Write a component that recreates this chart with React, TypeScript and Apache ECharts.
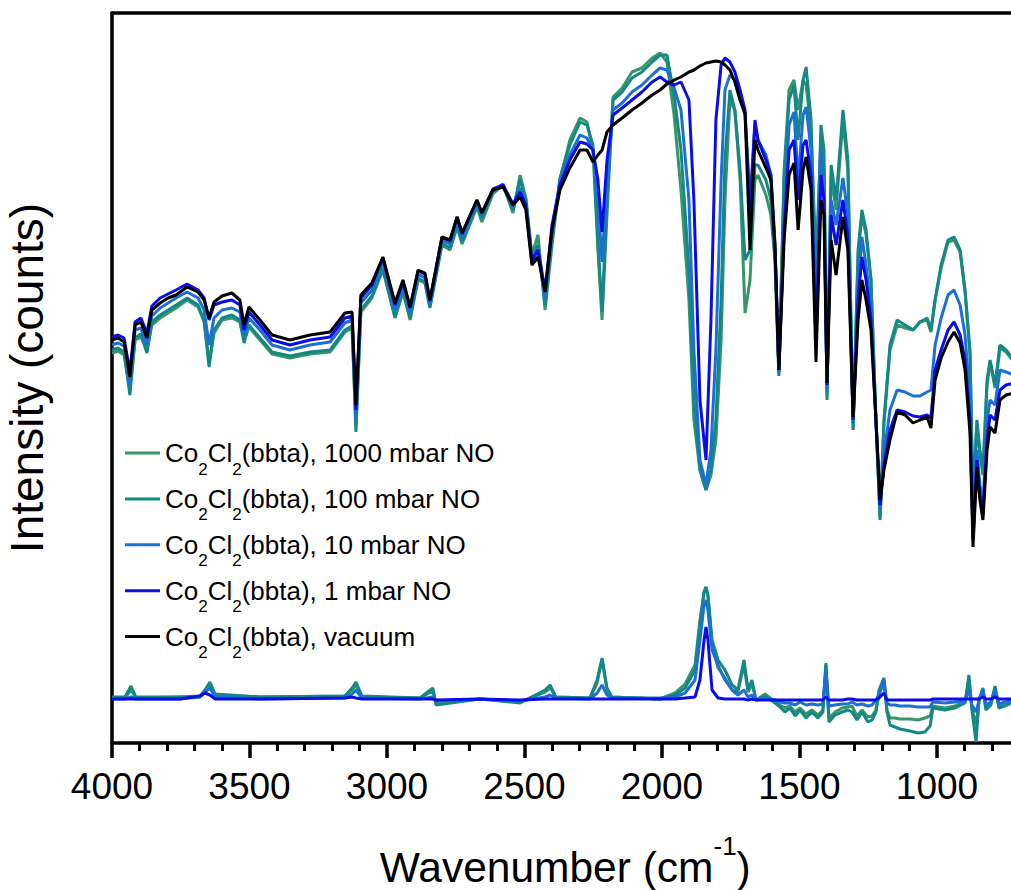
import React, { useEffect, useRef } from "react";
import * as echarts from "echarts";

// Wavenumbers (cm-1) of the sampled main spectra
const WN = [4000,3978,3956,3935,3916,3895,3873,3855,3825,3796,
3767,3727,3687,3665,3647,3629,3600,3564,3535,3520,
3502,3462,3418,3353,3280,3207,3153,3127,3113,3095,
3055,3015,2971,2942,2916,2887,2862,2844,2800,2771,
2745,2727,2673,2655,2615,2578,2542,2516,2495,2473,
2451,2425,2400,2371,2335,2298,2273,2251,2233,2218,
2200,2178,2145,2109,2073,2036,2007,1982,1956,1931,
1902,1884,1862,1840,1822,1804,1785,1771,1753,1735,
1716,1698,1680,1662,1651,1622,1604,1589,1575,1556,
1538,1520,1505,1487,1476,1458,1440,1422,1411,1400,
1385,1367,1342,1324,1305,1287,1273,1258,1240,1222,
1207,1193,1171,1145,1116,1087,1062,1036,1022,1007,
985,960,938,916,898,880,869,855,844,833,
818,807,789,771,749,720];

// Intensity (arb. counts) – vacuum
const VAC = [403,405,401,366,418,421,405,433,440,445,
448,456,451,443,425,441,447,450,443,418,
436,423,408,403,408,411,430,431,338,448,
460,486,440,463,436,473,470,443,506,503,
526,510,543,530,553,556,538,546,533,478,
486,451,513,553,575,593,593,581,588,593,
611,618,625,633,640,648,653,659,663,666,
671,673,677,680,681,682,681,678,673,661,
643,630,493,603,593,575,563,493,373,503,
568,580,513,573,586,553,381,543,528,360,
503,468,526,493,326,423,463,443,413,323,
243,273,303,331,328,320,323,326,315,363,
385,401,411,400,373,310,196,276,243,223,
293,316,310,343,348,350];

// 1 mbar NO
const NO1 = [406,408,405,371,421,425,410,437,445,449,
453,459,453,445,423,438,441,443,438,413,
431,418,403,398,403,406,425,427,333,445,
458,485,438,461,435,472,469,442,506,502,
526,509,543,530,554,558,539,551,538,483,
493,453,518,558,583,601,599,593,563,511,
583,628,635,643,651,661,666,661,658,661,
643,543,343,283,423,623,678,685,681,671,
653,633,528,623,603,583,568,498,373,513,
593,603,543,598,603,568,403,568,543,358,
528,498,543,508,323,443,486,463,423,323,
238,278,313,333,331,327,326,328,325,373,
393,413,421,408,383,323,203,283,248,228,
303,328,323,353,358,360];

// 10 mbar NO
const NO10 = [398,400,397,358,413,415,398,427,435,440,
445,451,445,433,398,425,433,435,431,408,
425,413,398,393,398,401,420,423,323,440,
453,481,433,458,431,469,465,439,503,499,
523,506,541,528,553,558,537,555,538,481,
493,445,513,561,588,608,605,593,543,481,
563,633,640,651,658,668,675,673,655,633,
543,393,283,258,293,393,563,653,668,663,
643,628,543,618,603,588,568,498,371,523,
618,631,563,628,636,593,423,593,558,353,
543,518,565,528,320,458,506,478,433,323,
233,288,333,353,351,347,347,351,353,398,
425,448,453,438,408,343,213,293,258,238,
323,343,338,373,371,368];

// 100 mbar NO
const NO100 = [393,395,391,348,405,409,390,421,428,433,
438,445,438,423,376,413,425,428,423,400,
418,405,391,387,391,393,413,417,311,433,
447,475,426,453,425,465,461,436,500,495,
518,501,538,525,551,559,533,563,543,485,
498,438,503,565,598,621,618,598,503,431,
543,643,651,665,671,681,688,688,648,593,
473,343,273,253,273,323,443,583,653,633,
573,483,493,578,578,563,543,483,367,563,
643,658,603,663,676,623,443,618,593,343,
578,543,633,583,313,493,533,513,463,323,
223,323,398,423,418,413,421,425,413,443,
478,503,506,493,453,393,243,323,293,273,
363,383,358,398,393,383];

// 1000 mbar NO
const NO1000 = [390,392,388,353,403,406,393,418,425,430,
435,443,436,421,381,410,423,425,421,403,
416,403,389,385,389,391,411,415,318,431,
445,473,425,451,423,463,460,435,498,493,
516,499,536,521,549,558,530,568,545,488,
508,433,498,563,603,625,621,593,493,423,
528,646,655,671,675,685,690,681,628,553,
443,323,273,253,268,303,403,543,643,633,
563,430,463,563,568,548,528,483,369,573,
653,663,633,663,658,613,483,603,573,348,
568,533,623,573,315,488,528,508,463,323,
225,318,393,418,415,413,421,423,411,443,
475,501,503,491,451,388,238,318,288,268,
358,381,355,395,391,381];

// Difference spectra (NO-loaded minus vacuum, offset)
const DWN = [4000,3953,3931,3913,3753,3680,3662,3644,3625,3462,
3153,3127,3113,3091,2880,2833,2822,2662,2516,2425,
2407,2386,2262,2236,2218,2200,2182,2007,1953,1916,
1880,1862,1847,1840,1833,1818,1796,1771,1745,1724,
1702,1687,1673,1658,1625,1589,1571,1553,1535,1516,
1498,1476,1455,1433,1415,1404,1393,1371,1345,1324,
1309,1291,1273,1251,1236,1222,1211,1193,1182,1171,
1153,1135,1098,1069,1044,1025,1015,971,935,898,
884,873,858,847,833,822,804,789,775,753,
731,698];

const D_NO1 = [44,44,44,44,44,47,50,48,44,44,
45,46,45,44,44,44,43,44,43,44,
44,44,44,44,44,44,44,44,44,45,
46,63,103,116,103,53,45,44,44,44,
44,43,44,43,43,43,43,43,43,43,
43,43,43,43,43,46,43,43,43,44,
44,43,43,43,43,43,45,50,43,43,
43,43,43,43,43,43,44,44,44,44,
44,44,44,44,46,44,44,46,44,44,
44,44];

const D_NO10 = [44,44,46,44,44,46,51,55,46,44,
45,49,53,45,44,46,42,44,42,46,
48,45,44,50,58,48,45,45,46,50,
63,103,138,143,133,93,78,63,53,48,
53,46,48,43,45,43,41,40,40,38,
41,38,39,38,39,73,37,38,39,39,
41,38,39,37,38,43,48,63,40,38,
38,37,37,36,36,36,41,40,41,42,
53,38,31,43,53,38,41,53,39,41,
42,42];

const D_NO100 = [46,46,57,46,46,47,53,61,49,46,
47,55,61,47,45,55,38,44,40,53,
58,46,45,63,85,55,46,44,48,55,
73,118,151,156,148,103,83,73,58,53,
83,53,63,43,47,40,36,31,35,27,
33,25,31,25,31,80,21,28,31,33,
31,23,31,21,23,31,53,65,31,18,
16,14,12,10,11,17,35,33,35,40,
68,33,1,43,55,33,38,57,35,37,
40,40];

const D_NO1000 = [45,45,53,45,46,46,51,58,48,46,
47,53,58,46,45,52,40,44,41,51,
55,46,45,60,83,53,46,44,50,59,
78,123,151,156,148,98,75,65,53,51,
78,51,59,43,49,41,38,35,37,31,
35,29,33,28,33,78,25,31,35,36,
37,27,33,26,27,33,48,61,33,25,
25,24,24,23,25,27,37,35,37,41,
63,35,18,43,53,35,40,55,37,39,
41,41];

const NAMES = [
  "Co2Cl2(bbta), 1000 mbar NO",
  "Co2Cl2(bbta), 100 mbar NO",
  "Co2Cl2(bbta), 10 mbar NO",
  "Co2Cl2(bbta), 1 mbar NO",
  "Co2Cl2(bbta), vacuum",
];
const COLORS = ["#36966a", "#148884", "#1c6fd4", "#0b0de6", "#000000"];
const MAIN = [NO1000, NO100, NO10, NO1, VAC];
const DIFF = [D_NO1000, D_NO100, D_NO10, D_NO1];

const FONT = '"Liberation Sans", Arial, Helvetica, sans-serif';

const pair = (xs: number[], ys: number[]) => xs.map((x, i) => [x, ys[i]]);

export default function App() {
  const ref = useRef<HTMLDivElement>(null);
  useEffect(() => {
    if (!ref.current) return;
    const chart = echarts.init(ref.current, null, { renderer: "svg" });
    const series: any[] = [];
    MAIN.forEach((ys, i) => {
      series.push({
        type: "line",
        name: NAMES[i],
        data: pair(WN, ys),
        showSymbol: false,
        symbol: "none",
        silent: true,
        lineStyle: { width: 3, color: COLORS[i] },
        itemStyle: { color: COLORS[i] },
      });
    });
    DIFF.forEach((ys, i) => {
      series.push({
        type: "line",
        name: "diff-" + i,
        data: pair(DWN, ys),
        showSymbol: false,
        symbol: "none",
        silent: true,
        lineStyle: { width: 3, color: COLORS[i] },
        itemStyle: { color: COLORS[i] },
      });
    });
    const axisLineStyle = { color: "#000", width: 3.5 };
    chart.setOption({
      animation: false,
      backgroundColor: "#ffffff",
      textStyle: { fontFamily: FONT },
      grid: {
        left: 112,
        right: -63.5,
        top: 13,
        bottom: 147,
        containLabel: false,
        outerBoundsMode: "none",
      },
      legend: {
        data: NAMES,
        orient: "vertical",
        left: 125,
        top: 440,
        padding: 0,
        itemGap: 8.4,
        itemWidth: 35,
        itemHeight: 3,
        icon: "rect",
        selectedMode: false,
        formatter: (name: string) =>
          name.replace(/^Co2Cl2(.*)$/, "{a|Co}{s|2}{a|Cl}{s|2}{a|$1}"),
        textStyle: {
          color: "#000",
          fontFamily: FONT,
          fontSize: 26,
          rich: {
            a: { fontSize: 26, lineHeight: 30, color: "#000", fontFamily: FONT },
            s: { fontSize: 17, lineHeight: 17, color: "#000", fontFamily: FONT, padding: [16, 0, -16, 0] },
          },
        },
      },
      xAxis: [
        {
          type: "value",
          inverse: true,
          min: 500,
          max: 4000,
          interval: 500,
          position: "bottom",
          axisLine: { show: true, onZero: false, lineStyle: axisLineStyle },
          axisTick: { show: true, inside: false, length: 15, lineStyle: { color: "#000", width: 3.5 } },
          minorTick: { show: true, splitNumber: 5, length: 8, lineStyle: { color: "#000", width: 3 } },
          axisLabel: {
            fontSize: 37,
            color: "#000",
            margin: 25,
            fontFamily: FONT,
            formatter: (v: number) => (v < 1000 ? "" : String(v)),
          },
          splitLine: { show: false },
          minorSplitLine: { show: false },
          name: "{a|Wavenumber (cm}{b|-1}{a|)}",
          nameLocation: "middle",
          nameGap: 102,
          nameTextStyle: {
            color: "#000",
            fontFamily: FONT,
            fontSize: 42.5,
            padding: [0, 56, 0, 0],
            rich: {
              a: { fontSize: 42.5, lineHeight: 44, color: "#000", fontFamily: FONT },
              b: { fontSize: 26, lineHeight: 26, color: "#000", fontFamily: FONT, padding: [-21, 0, 21, 0] },
            },
          },
        },
        {
          type: "value",
          inverse: true,
          min: 500,
          max: 4000,
          position: "top",
          axisLine: { show: true, onZero: false, lineStyle: axisLineStyle },
          axisTick: { show: false },
          axisLabel: { show: false },
          splitLine: { show: false },
        },
      ],
      yAxis: {
        type: "value",
        min: 0,
        max: 730,
        axisLine: { show: true, onZero: false, lineStyle: axisLineStyle },
        axisTick: { show: false },
        axisLabel: { show: false },
        splitLine: { show: false },
        name: "Intensity (counts)",
        nameLocation: "middle",
        nameGap: 62,
        nameTextStyle: { fontSize: 46, lineHeight: 46, color: "#000", fontFamily: FONT },
      },
      series,
    });
    return () => chart.dispose();
  }, []);
  return (
    <div
      ref={ref}
      style={{ position: "absolute", left: 0, top: 0, width: 1011, height: 890 }}
    />
  );
}
